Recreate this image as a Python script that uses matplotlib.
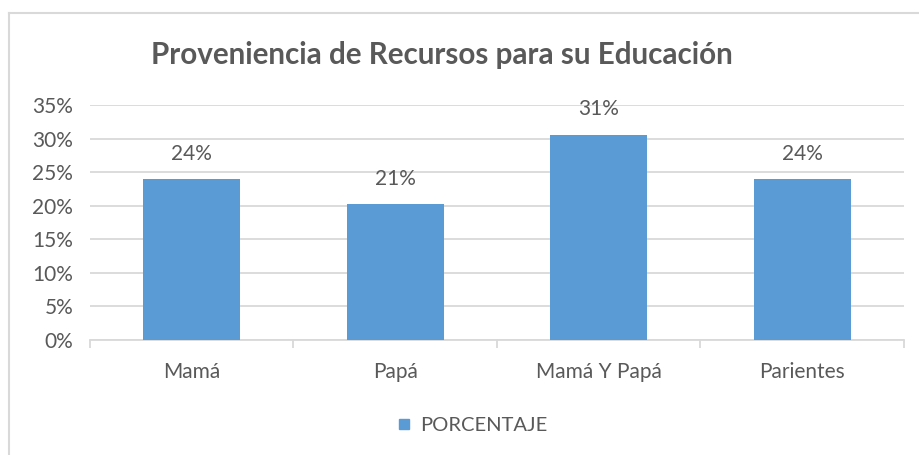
import matplotlib
matplotlib.use('Agg')
import matplotlib.pyplot as plt
from matplotlib.lines import Line2D

# Data
categories = ['Mamá', 'Papá', 'Mamá Y Papá', 'Parientes']
values = [0.240, 0.202, 0.306, 0.240]
value_labels = ['24%', '21%', '31%', '24%']
yticks = [0, 0.05, 0.10, 0.15, 0.20, 0.25, 0.30, 0.35]
series_name = 'PORCENTAJE'

text_color = '#595959'
bar_color = '#5b9bd5'
grid_color = '#d9d9d9'

plt.rcParams['font.family'] = ['Lato', 'DejaVu Sans']

fig = plt.figure(figsize=(9.2, 4.55), dpi=100)
ax = fig.add_axes([90 / 920, 1 - 340 / 455, (904 - 90) / 920, (340 - 105) / 455])

x = list(range(len(categories)))
ax.bar(x, values, width=0.475, color=bar_color, zorder=3)

for xi, v, lab in zip(x, values, value_labels):
    ax.annotate(lab, (xi, v), xytext=(0, 11), textcoords='offset points',
                ha='center', va='bottom', fontsize=15, color=text_color)

ax.set_xlim(-0.5, len(categories) - 0.5)
ax.set_ylim(0, 0.35)
ax.set_yticks(yticks)
ax.set_yticklabels([f'{int(round(t * 100))}%' for t in yticks])
ax.yaxis.grid(True, color=grid_color, linewidth=1.3, zorder=0)
ax.set_axisbelow(True)

# category labels centred, tick marks at the boundaries
ax.set_xticks(x)
ax.set_xticklabels(categories)
ax.set_xticks([i - 0.5 for i in range(len(categories) + 1)], minor=True)
ax.tick_params(axis='x', which='major', length=0, pad=16, labelsize=15, labelcolor=text_color)
ax.tick_params(axis='x', which='minor', length=6, color=grid_color, width=1.3)
ax.tick_params(axis='y', length=0, pad=12, labelsize=15, labelcolor=text_color)

for side in ['top', 'right', 'left']:
    ax.spines[side].set_visible(False)
ax.spines['bottom'].set_color(grid_color)
ax.spines['bottom'].set_linewidth(1.3)

fig.text(442 / 920, 1 - 55 / 455, 'Proveniencia de Recursos para su Educación',
         ha='center', va='center', fontsize=21.3, fontweight='bold', color=text_color)

# legend
handle = Line2D([], [], marker='s', linestyle='none', markersize=7, color=bar_color)
fig.legend([handle], [series_name], loc='center', bbox_to_anchor=(472 / 920, 1 - 425 / 455),
           frameon=False, fontsize=14.5, labelcolor=text_color,
           handlelength=0.8, handletextpad=0.4)

# outer chart border
fig.add_artist(Line2D([9 / 920, 9 / 920], [0, 1 - 12.5 / 455], color=grid_color, linewidth=1.5))
fig.add_artist(Line2D([9 / 920, 1], [1 - 12.5 / 455, 1 - 12.5 / 455], color=grid_color, linewidth=1.5))

fig.savefig('out.png', dpi=100)
